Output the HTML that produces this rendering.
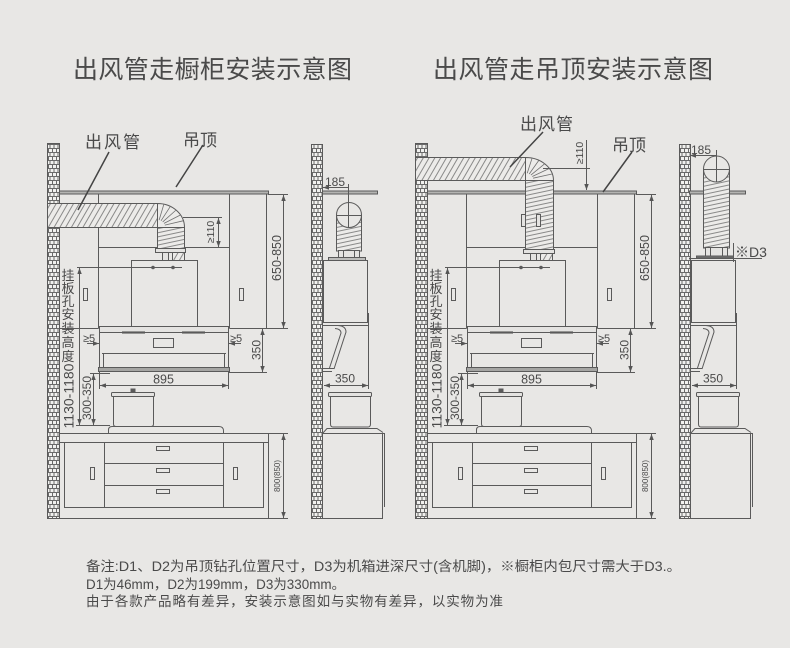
<!DOCTYPE html>
<html><head><meta charset="utf-8">
<style>
html,body{margin:0;padding:0;background:#e8e7e5;}
svg{display:block;}
text{font-family:"Liberation Sans","Noto Sans CJK SC",sans-serif;fill:#4a4a4a;}
</style></head><body>
<svg width="790" height="648" viewBox="0 0 790 648" xmlns="http://www.w3.org/2000/svg">
<defs>
<pattern id="brick" width="8" height="8" patternUnits="userSpaceOnUse">
 <rect width="8" height="8" fill="#f1f1ef"/>
 <path d="M0,0.5H8M0,4.5H8M2,0.5V4.5M6,0.5V4.5M0.5,4.5V8.5M4.5,4.5V8.5" stroke="#6a6a6a" stroke-width="1" fill="none"/>
</pattern>
<pattern id="hd" width="5" height="5" patternUnits="userSpaceOnUse" patternTransform="rotate(30)">
 <rect width="5" height="5" fill="#ecebe9"/>
 <line x1="0.5" y1="0" x2="0.5" y2="5" stroke="#707070" stroke-width="0.8"/>
</pattern>
<pattern id="hv" width="4" height="4" patternUnits="userSpaceOnUse" patternTransform="rotate(-12)">
 <rect width="4" height="4" fill="#ecebe9"/>
 <line x1="0" y1="0.5" x2="4" y2="0.5" stroke="#707070" stroke-width="0.8"/>
</pattern>
<marker id="ar" viewBox="0 0 8 6" refX="8" refY="3" markerWidth="6" markerHeight="4.5" markerUnits="userSpaceOnUse" orient="auto-start-reverse">
 <path d="M0,0L8,3L0,6z" fill="#555"/>
</marker>

<g id="fv" stroke="#5a5a5a" stroke-width="1" fill="none">
 <rect x="47.5" y="143.5" width="12" height="375" fill="url(#brick)"/>
 <rect x="59.5" y="191" width="209" height="3" fill="#b4b4b2"/>
 <path d="M98.5,194V328.5M229.5,194V328.5M266.5,194V328.5M59.5,328.5H98.5M229.5,328.5H266.5M98.5,247.5H229.5"/>
 <rect x="83.5" y="288.5" width="4" height="12"/>
 <rect x="239.5" y="288.5" width="4" height="12"/>
 <path d="M268,194.5H288M266,328.5H288"/>
 <line x1="283.5" y1="195" x2="283.5" y2="328" marker-start="url(#ar)" marker-end="url(#ar)"/>
 <rect x="131.5" y="260.5" width="66" height="66"/>
 <line x1="77" y1="267.5" x2="182" y2="267.5"/>
 <circle cx="153" cy="267.5" r="1.3" fill="#5a5a5a"/>
 <circle cx="173" cy="267.5" r="1.3" fill="#5a5a5a"/>
 <rect x="99.5" y="326.5" width="129" height="6" fill="#e4e3e1"/>
 <path d="M122,332.5H145M182,332.5H205" stroke="#444" stroke-width="2"/>
 <rect x="99.5" y="332.5" width="129" height="35"/>
 <rect x="153.5" y="338.5" width="20" height="9"/>
 <path d="M102,353.5H226M103.5,353.5V367M224.5,353.5V367"/>
 <rect x="98.5" y="367.5" width="131" height="4" fill="#a5a5a3"/>
 <line x1="87" y1="343.5" x2="99" y2="343.5" marker-end="url(#ar)"/>
 <line x1="241" y1="343.5" x2="229" y2="343.5" marker-end="url(#ar)"/>
 <path d="M229,372.5H267"/>
 <line x1="262.5" y1="329" x2="262.5" y2="372" marker-start="url(#ar)" marker-end="url(#ar)"/>
 <path d="M99.5,372V389M228.5,372V389"/>
 <line x1="100" y1="385.5" x2="228" y2="385.5" marker-start="url(#ar)" marker-end="url(#ar)"/>
 <line x1="79.5" y1="268" x2="79.5" y2="425" marker-start="url(#ar)" marker-end="url(#ar)"/>
 <line x1="93.5" y1="374" x2="93.5" y2="425" marker-start="url(#ar)" marker-end="url(#ar)"/>
 <path d="M90,373.5H110M76,425.5H110"/>
 <rect x="111.5" y="392.5" width="43" height="4" rx="1" fill="#e4e3e1"/>
 <path d="M113.5,396.5V424Q113.5,426.5 116,426.5H151Q153.5,426.5 153.5,424V396.5"/>
 <rect x="131" y="389" width="4" height="3" fill="#5a5a5a"/>
 <path d="M108.5,433V430Q108.5,426.5 112,426.5H219Q223.5,426.5 223.5,431V433"/>
 <path d="M59.5,433.5H268.5V518.5H59.5M59.5,442.5H268.5"/>
 <rect x="64.5" y="442.5" width="199" height="65"/>
 <path d="M104.5,442.5V507.5M223.5,442.5V507.5M104.5,463.5H223.5M104.5,485.5H223.5"/>
 <rect x="156.5" y="446.5" width="13" height="4"/>
 <rect x="156.5" y="468.5" width="13" height="4"/>
 <rect x="156.5" y="489.5" width="13" height="4"/>
 <rect x="90.5" y="467.5" width="4" height="12"/>
 <rect x="233.5" y="467.5" width="4" height="12"/>
 <path d="M268,433.5H288M268,518.5H288"/>
 <line x1="283.5" y1="434" x2="283.5" y2="518" marker-start="url(#ar)" marker-end="url(#ar)"/>
</g>

<g id="sv" stroke="#5a5a5a" stroke-width="1" fill="none">
 <rect x="311.5" y="144.5" width="11" height="374" fill="url(#brick)"/>
 <rect x="323.5" y="260.5" width="44" height="62"/>
 <path d="M323,325.5H368.5M368.5,313V389"/>
 <path d="M338,325.5Q346,326 346,332L334,369"/>
 <path d="M335,328.5Q341,329 341,333L329.5,368"/>
 <path d="M322,368.5H334M322,371.5H332"/>
 <line x1="324" y1="385.5" x2="368" y2="385.5" marker-start="url(#ar)" marker-end="url(#ar)"/>
 <rect x="328.5" y="392.5" width="43" height="4" rx="1" fill="#e4e3e1"/>
 <path d="M330.5,396.5V424Q330.5,427 333,427H368Q370.5,427 370.5,424V396.5"/>
 <path d="M322.5,433.5L327,428.5H377L383,432.5"/>
 <path d="M322,433.5H384.5V507M382.5,433.5V518.5H322.5"/>
</g>
</defs>

<!-- Titles -->
<text x="73" y="78" font-size="25" textLength="279" lengthAdjust="spacing" fill="#555">出风管走橱柜安装示意图</text>
<text x="433" y="78" font-size="25" textLength="280" lengthAdjust="spacing" fill="#555">出风管走吊顶安装示意图</text>

<!-- LEFT FRONT -->
<use href="#fv"/>
<g stroke="#5a5a5a" stroke-width="1">
 <rect x="47.5" y="203.5" width="110" height="24" fill="url(#hd)"/>
 <path d="M157.5,227.5V203.5A27,24 0 0 1 184.5,227.5Z" fill="#ecebe9"/>
 <path d="M164.8,225.1L183.1,220.8M164,223.4L180.4,215M162.7,221.9L176.1,210M161,220.8L170.5,206.2M159.1,220.1L164,203.8" fill="none" stroke="#707070" stroke-width="0.8"/>
 <rect x="157.5" y="227.5" width="27" height="21" fill="url(#hv)"/>
 <rect x="155.5" y="248.5" width="30" height="4" fill="#e4e3e1"/>
 <rect x="162.5" y="252.5" width="6" height="8" fill="#e4e3e1"/>
 <rect x="172.5" y="252.5" width="12" height="8" fill="url(#hd)"/>
 <path d="M183,217.5H222" fill="none"/>
 <line x1="218.5" y1="218" x2="218.5" y2="247" marker-start="url(#ar)" marker-end="url(#ar)"/>
</g>
<path d="M109,152L78,210M203,145L176,187" stroke="#444" stroke-width="1.5"/>
<text x="85" y="148" font-size="17" textLength="55" lengthAdjust="spacing">出风管</text>
<text x="183" y="146" font-size="17" textLength="34" lengthAdjust="spacing">吊顶</text>
<text transform="translate(281,258) rotate(-90)" font-size="12.5" text-anchor="middle">650-850</text>
<text transform="translate(214,232) rotate(-90)" font-size="10.5" text-anchor="middle">≥110</text>
<text transform="translate(260.5,350) rotate(-90)" font-size="12" text-anchor="middle">350</text>
<text x="163.5" y="383.5" font-size="12.5" text-anchor="middle">895</text>
<text x="83" y="342" font-size="11">≥5</text>
<text x="230" y="342" font-size="11">≥5</text>
<g font-size="13" text-anchor="middle">
 <text x="68" y="280">挂</text><text x="68" y="293">板</text><text x="68" y="306">孔</text>
 <text x="68" y="319">安</text><text x="68" y="333">装</text><text x="68" y="347">高</text>
 <text x="68" y="361">度</text>
</g>
<text transform="translate(73.5,396) rotate(-90)" font-size="14" text-anchor="middle">1130-1180</text>
<text transform="translate(91,398) rotate(-90)" font-size="12" text-anchor="middle">300-350</text>
<text transform="translate(280,476) rotate(-90)" font-size="8" text-anchor="middle">800(850)</text>

<!-- LEFT SIDE -->
<use href="#sv"/>
<g stroke="#5a5a5a" stroke-width="1" fill="none">
 <rect x="322.5" y="191" width="55" height="3" fill="#b4b4b2"/>
 <line x1="323" y1="187.5" x2="348.5" y2="187.5" marker-start="url(#ar)"/>
 <rect x="336.5" y="215" width="25" height="36" fill="url(#hv)"/>
 <circle cx="349" cy="215" r="12.5" fill="#e8e7e5"/>
 <path d="M336,215.5H362M348.5,184V228"/>
 <rect x="338.5" y="250.5" width="21" height="7" fill="#e4e3e1"/>
 <path d="M343.5,250.5V257.5M354.5,250.5V257.5"/>
 <rect x="328.5" y="257.5" width="37" height="3" fill="#bdbdbb"/>
</g>
<text x="335" y="186" font-size="12" text-anchor="middle">185</text>
<text x="345" y="382.5" font-size="12" text-anchor="middle">350</text>

<!-- RIGHT FRONT -->
<use href="#fv" transform="translate(368,0)"/>
<g stroke="#5a5a5a" stroke-width="1">
 <rect x="415.5" y="157.5" width="110" height="23" fill="url(#hd)"/>
 <path d="M525.5,180.5V157.5A28,23 0 0 1 553.5,180.5Z" fill="#ecebe9"/>
 <path d="M533.1,178.2L552,174M532.3,176.5L549.2,168.5M530.9,175.1L544.8,163.7M529.2,174L539,160.1M527.2,173.3L532.2,157.8" fill="none" stroke="#707070" stroke-width="0.8"/>
 <rect x="525.5" y="180.5" width="28" height="69" fill="url(#hv)"/>
 <rect x="521.5" y="214.5" width="4" height="12" fill="#e4e3e1"/>
 <rect x="536.5" y="214.5" width="4" height="12" fill="#e4e3e1"/>
 <rect x="523.5" y="249.5" width="31" height="4" fill="#e4e3e1"/>
 <rect x="530.5" y="253.5" width="6" height="7" fill="#e4e3e1"/>
 <rect x="540.5" y="253.5" width="12" height="7" fill="url(#hd)"/>
 <path d="M543,168.5H590" fill="none"/>
 <line x1="586.5" y1="140" x2="586.5" y2="190" marker-end="url(#ar)"/>
</g>
<path d="M543,132L510,167M632,152L603,192" stroke="#444" stroke-width="1.5"/>
<text x="520" y="130" font-size="17" textLength="53" lengthAdjust="spacing">出风管</text>
<text x="612" y="151" font-size="17" textLength="34" lengthAdjust="spacing">吊顶</text>
<text transform="translate(583,153) rotate(-90)" font-size="10.5" text-anchor="middle">≥110</text>
<text transform="translate(649,258) rotate(-90)" font-size="12.5" text-anchor="middle">650-850</text>
<text transform="translate(628.5,350) rotate(-90)" font-size="12" text-anchor="middle">350</text>
<text x="531.5" y="383.5" font-size="12.5" text-anchor="middle">895</text>
<text x="451" y="342" font-size="11">≥5</text>
<text x="598" y="342" font-size="11">≥5</text>
<g font-size="13" text-anchor="middle">
 <text x="436" y="280">挂</text><text x="436" y="293">板</text><text x="436" y="306">孔</text>
 <text x="436" y="319">安</text><text x="436" y="333">装</text><text x="436" y="347">高</text>
 <text x="436" y="361">度</text>
</g>
<text transform="translate(441.5,396) rotate(-90)" font-size="14" text-anchor="middle">1130-1180</text>
<text transform="translate(459,398) rotate(-90)" font-size="12" text-anchor="middle">300-350</text>
<text transform="translate(648,476) rotate(-90)" font-size="8" text-anchor="middle">800(850)</text>

<!-- RIGHT SIDE -->
<use href="#sv" transform="translate(368,0)"/>
<g stroke="#5a5a5a" stroke-width="1" fill="none">
 <rect x="689.5" y="191" width="14" height="3" fill="#b4b4b2"/>
 <rect x="729.5" y="191" width="16" height="3" fill="#b4b4b2"/>
 <line x1="690" y1="155.5" x2="716.5" y2="155.5" marker-start="url(#ar)"/>
 <rect x="703.5" y="169" width="26" height="79" fill="url(#hv)"/>
 <circle cx="716.5" cy="169" r="13" fill="#e8e7e5"/>
 <path d="M703,169.5H730M716.5,150V182"/>
 <rect x="705.5" y="247.5" width="22" height="9" fill="#e4e3e1"/>
 <path d="M710.5,247.5V256.5M722.5,247.5V256.5"/>
 <rect x="696.5" y="256" width="37" height="2" fill="#777"/>
 <path d="M689,258.5H762M733.5,243V262"/>
</g>
<text x="701" y="154" font-size="12" text-anchor="middle">185</text>
<text x="735" y="257" font-size="14">※D3</text>
<text x="713" y="382.5" font-size="12" text-anchor="middle">350</text>

<!-- Notes -->
<text x="86" y="571" font-size="13.5" textLength="595" lengthAdjust="spacingAndGlyphs">备注:D1、D2为吊顶钻孔位置尺寸，D3为机箱进深尺寸(含机脚)，※橱柜内包尺寸需大于D3.。</text>
<text x="86" y="589" font-size="13.5" textLength="259" lengthAdjust="spacingAndGlyphs">D1为46mm，D2为199mm，D3为330mm。</text>
<text x="86" y="606" font-size="13.5" textLength="417" lengthAdjust="spacing">由于各款产品略有差异，安装示意图如与实物有差异，以实物为准</text>
</svg>
</body></html>
